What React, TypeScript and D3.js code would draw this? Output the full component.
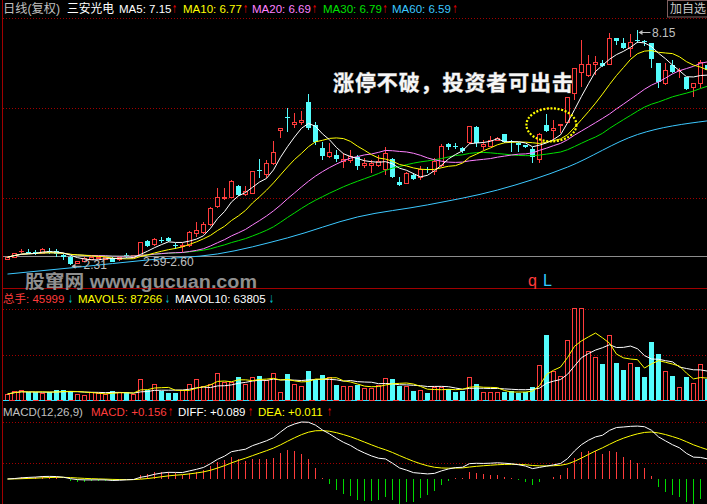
import { useEffect } from 'react';
import * as d3 from 'd3';

// 三安光电 日线(复权)，从左到右 101 根 K 线
const opens = [
  2.45, 2.50, 2.63, 2.63, 2.63, 2.60, 2.64, 2.65, 2.55, 2.50,
  2.33, 2.40, 2.45, 2.46, 2.45, 2.48, 2.43, 2.55, 2.49, 2.55,
  2.90, 2.81, 2.93, 2.97, 2.80, 2.76, 2.78, 3.10, 3.12, 3.30,
  3.77, 3.95, 3.99, 4.27, 4.07, 4.09, 4.65, 4.55, 4.84, 5.64,
  5.97, 5.80, 5.84, 6.36, 5.79, 5.21, 5.01, 5.04, 4.89, 4.91,
  4.99, 4.77, 4.77, 4.77, 4.67, 4.94, 4.37, 4.34, 4.55, 4.47,
  4.69, 4.62, 4.79, 5.31, 5.25, 5.21, 5.34, 5.74, 5.24, 5.26,
  5.41, 5.56, 5.37, 5.34, 5.29, 5.19, 4.94, 5.79, 5.64, 5.77,
  5.86, 6.56, 7.10, 7.03, 7.29, 7.33, 7.30, 7.95, 7.83, 7.68,
  7.90, 7.88, 7.83, 7.33, 6.83, 7.28, 7.14, 6.98, 6.71, 6.83,
  7.28,
];
const closes = [
  2.50, 2.58, 2.64, 2.62, 2.62, 2.68, 2.63, 2.59, 2.50, 2.34,
  2.38, 2.46, 2.49, 2.50, 2.48, 2.39, 2.50, 2.54, 2.54, 2.87,
  2.79, 2.94, 2.92, 2.89, 2.79, 2.79, 3.11, 3.17, 3.30, 3.72,
  3.99, 3.99, 4.37, 4.05, 4.14, 4.64, 4.64, 4.82, 5.11, 5.71,
  5.96, 5.84, 5.91, 5.71, 5.36, 5.01, 5.11, 4.94, 4.94, 5.01,
  4.77, 4.83, 4.82, 4.87, 5.09, 4.49, 4.29, 4.57, 4.45, 4.69,
  4.68, 4.87, 5.24, 5.24, 5.24, 5.14, 5.74, 5.34, 5.30, 5.39,
  5.46, 5.36, 5.36, 5.29, 5.23, 4.99, 5.56, 5.64, 5.71, 5.81,
  6.48, 7.20, 7.30, 7.28, 7.33, 7.25, 7.95, 7.88, 7.69, 7.83,
  7.89, 7.85, 7.43, 6.86, 7.15, 7.10, 7.15, 6.68, 6.83, 7.33,
  7.15,
];
const highs = [
  2.53, 2.60, 2.70, 2.70, 2.68, 2.73, 2.73, 2.70, 2.58, 2.53,
  2.40, 2.50, 2.53, 2.53, 2.50, 2.50, 2.53, 2.60, 2.56, 2.88,
  2.93, 2.97, 2.99, 2.99, 2.85, 2.85, 3.14, 3.37, 3.37, 3.75,
  4.22, 4.22, 4.43, 4.29, 4.27, 4.64, 4.94, 4.91, 5.39, 5.72,
  6.21, 6.08, 6.13, 6.56, 5.86, 5.36, 5.34, 5.16, 5.09, 5.16,
  5.04, 4.96, 4.91, 5.04, 5.24, 4.96, 4.49, 4.63, 4.59, 4.76,
  4.74, 4.96, 5.31, 5.34, 5.34, 5.25, 5.74, 5.76, 5.41, 5.51,
  5.49, 5.56, 5.41, 5.36, 5.30, 5.24, 5.59, 6.06, 5.91, 5.81,
  6.48, 7.20, 7.90, 7.53, 7.50, 7.40, 8.07, 7.95, 7.95, 8.05,
  8.15, 7.89, 7.83, 7.34, 7.33, 7.40, 7.20, 6.99, 6.83, 7.40,
  7.30,
];
const lows = [
  2.43, 2.48, 2.60, 2.58, 2.55, 2.58, 2.58, 2.50, 2.43, 2.31,
  2.32, 2.38, 2.43, 2.45, 2.43, 2.38, 2.40, 2.48, 2.48, 2.54,
  2.75, 2.78, 2.85, 2.87, 2.71, 2.63, 2.75, 3.00, 3.07, 3.27,
  3.72, 3.92, 3.97, 4.02, 4.01, 4.08, 4.47, 4.47, 4.79, 5.46,
  5.61, 5.71, 5.79, 5.66, 5.29, 4.91, 4.96, 4.87, 4.72, 4.84,
  4.67, 4.72, 4.59, 4.74, 4.55, 4.48, 4.27, 4.32, 4.42, 4.43,
  4.59, 4.55, 4.74, 5.16, 5.19, 5.09, 5.31, 5.24, 5.16, 5.24,
  5.39, 5.34, 5.11, 5.11, 5.21, 4.84, 4.84, 5.61, 5.41, 5.59,
  5.84, 6.41, 6.73, 6.98, 7.03, 7.23, 7.28, 7.78, 7.68, 7.48,
  7.83, 7.75, 7.20, 6.71, 6.78, 7.08, 6.96, 6.66, 6.48, 6.71,
  7.10,
];
// 成交量（手）
const volumes = [
  24000, 34800, 40000, 30800, 30800, 26800, 30800, 40000, 40000, 34800,
  24000, 20000, 30800, 26800, 21200, 34800, 30800, 30800, 21200, 84000,
  40000, 64000, 37200, 26800, 26800, 37200, 64000, 84000, 53200, 64000,
  106800, 70800, 70800, 90800, 64000, 90800, 94800, 77200, 106800, 30800,
  104000, 64000, 56000, 114800, 80000, 100000, 90800, 60000, 53200, 56000,
  60000, 48000, 48000, 57200, 86800, 84000, 57200, 54800, 36000, 40000,
  28000, 50800, 50800, 44000, 33200, 36000, 90800, 64000, 30800, 30800,
  30800, 33200, 34800, 29200, 30800, 50800, 140000, 260000, 113200, 94800,
  240000, 366800, 366800, 194800, 170800, 144000, 260000, 148000, 120000, 146800,
  132000, 92000, 232000, 184000, 114800, 96000, 50800, 92000, 68000, 142800,
  84000,
];

// MA60 读数（每 10 根）
const ma60Bars = [0, 10, 20, 30, 40, 50, 60, 70, 80, 90, 100];
const ma60Values = [2.08, 2.25, 2.43, 2.58, 2.98, 3.50, 3.80, 4.17, 4.74, 5.55, 5.89];

const priceLegend = [
  { label: 'MA5: 7.15', color: '#ffffff', arrow: '↑' },
  { label: 'MA10: 6.77', color: '#ffff00', arrow: '↑' },
  { label: 'MA20: 6.69', color: '#ff80ff', arrow: '↑' },
  { label: 'MA30: 6.79', color: '#00e000', arrow: '↑' },
  { label: 'MA60: 6.59', color: '#3cc8ff', arrow: '↑' },
];
const volLegend = [
  { label: '总手: 45999', color: '#ff3c3c', arrow: '↓' },
  { label: 'MAVOL5: 87266', color: '#ffff00', arrow: '↓' },
  { label: 'MAVOL10: 63805', color: '#ffffff', arrow: '↓' },
];
const macdLegend = [
  { label: 'MACD: +0.156', color: '#ff3c3c', arrow: '↑' },
  { label: 'DIFF: +0.089', color: '#ffffff', arrow: '↑' },
  { label: 'DEA: +0.011', color: '#ffff00', arrow: '↑' },
];

const highBar = 90;
const lowBar = 9;
const refPrice = 2.52;
const refLabel = '2.59-2.60';

const RED = '#ff3c3c';
const CYAN = '#54fcfc';
const GREEN = '#00d800';
const GRID = '#a00000';
const GRAY = '#c0c0c0';

const movingAvg = (arr: number[], n: number) =>
  arr.map((_, i) => d3.mean(arr.slice(Math.max(0, i - n + 1), i + 1)) as number);

const ema = (arr: number[], n: number) => {
  const k = 2 / (n + 1);
  const out: number[] = [];
  arr.forEach((v, i) => out.push(i === 0 ? v : out[i - 1] + k * (v - out[i - 1])));
  return out;
};

const dotted = (y: number, key: string) => (
  <line key={key} x1={3} x2={707} y1={y} y2={y} stroke={GRID} strokeDasharray="1 2" />
);

type LegendItem = { label: string; color: string; arrow: string };

// 一行指标说明：文字 + 细长箭头
const Legend = ({ items, xs, arrowXs, y, arrowColor }: {
  items: LegendItem[]; xs: number[]; arrowXs: number[]; y: number; arrowColor: string;
}) => (
  <g fontSize={11.5}>
    {items.map((d, i) => (
      <g key={d.label}>
        <text x={xs[i]} y={y} fill={d.color}>{d.label}</text>
        <text x={arrowXs[i]} y={y} fill={arrowColor} fontFamily="'DejaVu Sans', sans-serif"
          fontSize={11} textLength={5} lengthAdjust="spacingAndGlyphs">{d.arrow}</text>
      </g>
    ))}
  </g>
);

export default function App() {
  useEffect(() => {
    document.body.style.margin = '0';
    document.body.style.background = '#000';
  }, []);

  const x = d3.scaleLinear().domain([0, 100]).range([7.5, 707.5]);
  const yPrice = d3.scaleLinear().domain([2.31, 8.15]).range([264.8, 30]);
  const yVol = d3.scaleLinear().domain([0, 368000]).range([400, 308]);

  const ema26 = ema(closes, 26);
  const diff = ema(closes, 12).map((v, i) => v - ema26[i]);
  const dea = ema(diff, 9);
  const macd = diff.map((v, i) => 2 * (v - dea[i]));
  const yMacd = d3.scaleLinear().domain([0, d3.max(diff) as number]).range([479, 422]);

  const maLines = [
    { values: movingAvg(closes, 5), color: '#ffffff' },
    { values: movingAvg(closes, 10), color: '#ffff00' },
    { values: movingAvg(closes, 20), color: '#ff80ff' },
    { values: movingAvg(closes, 30), color: '#00e000' },
  ];
  const priceLine = d3.line<number>().x((_, i) => x(i)).y((d) => yPrice(d));
  const ma60Line = d3.line<number>()
    .x((_, i) => x(ma60Bars[i]))
    .y((d) => yPrice(d))
    .curve(d3.curveMonotoneX);
  const volLine = d3.line<number>().x((_, i) => x(i)).y((d) => yVol(d));
  const macdLine = d3.line<number>().x((_, i) => x(i)).y((d) => yMacd(d));

  const hx = x(highBar);
  const hy = yPrice(highs[highBar]);
  const lx = x(lowBar);
  const ly = yPrice(lows[lowBar]);

  return (
    <svg width={707} height={504} style={{ display: 'block', background: '#000' }}
      fontFamily="'Liberation Sans', 'Noto Sans CJK SC', sans-serif" fontSize={12}>
      <defs>
        <clipPath id="pricePanel"><rect x={3} y={19} width={704} height={269} /></clipPath>
        <clipPath id="volPanel"><rect x={3} y={290} width={704} height={110} /></clipPath>
        <clipPath id="macdPanel"><rect x={3} y={402} width={704} height={102} /></clipPath>
      </defs>
      <rect width={707} height={504} fill="#000" />

      {/* grids and separators */}
      {[18.5, 108.5, 198.5].map((y, i) => dotted(y, 'p' + i))}
      {[309.5, 355.5].map((y, i) => dotted(y, 'v' + i))}
      {[422.5, 463.5].map((y, i) => dotted(y, 'm' + i))}
      <line x1={2.5} x2={2.5} y1={0} y2={504} stroke={GRID} />
      <line x1={3} x2={707} y1={288.5} y2={288.5} stroke={GRID} />
      <line x1={3} x2={707} y1={400.5} y2={400.5} stroke={RED} />
      <line x1={3} x2={707} y1={400.5} y2={400.5} stroke="#33e0ff" strokeDasharray="6 6" />

      {/* price panel */}
      <g clipPath="url(#pricePanel)" shapeRendering="crispEdges">
        <line x1={3} x2={707} y1={yPrice(refPrice)} y2={yPrice(refPrice)} stroke="#8c8c8c" />
        {closes.map((c, i) => {
          const o = opens[i];
          const up = c >= o;
          const cx = x(i);
          const color = up ? RED : CYAN;
          const top = yPrice(Math.max(o, c));
          const bot = yPrice(Math.min(o, c));
          const h = yPrice(highs[i]);
          const l = yPrice(lows[i]);
          if (bot - top < 1.2) {
            const m = (top + bot) / 2;
            return (
              <g key={i} stroke={color}>
                <line x1={cx} x2={cx} y1={h} y2={l} />
                <line x1={cx - 2.5} x2={cx + 2.5} y1={m} y2={m} />
              </g>
            );
          }
          if (up) {
            return (
              <g key={i} stroke={color}>
                <line x1={cx} x2={cx} y1={h} y2={top} />
                <line x1={cx} x2={cx} y1={bot} y2={l} />
                <rect x={cx - 2} y={top} width={4} height={bot - top} fill="#000" />
              </g>
            );
          }
          return (
            <g key={i}>
              <line x1={cx} x2={cx} y1={h} y2={l} stroke={color} />
              <rect x={cx - 2.5} y={top} width={5} height={bot - top} fill={color} />
            </g>
          );
        })}
      </g>
      <g clipPath="url(#pricePanel)" fill="none">
        <path d={ma60Line(ma60Values) as string} stroke="#3cc8ff" />
        {maLines.slice().reverse().map((m) => (
          <path key={m.color} d={priceLine(m.values) as string} stroke={m.color} />
        ))}
      </g>

      {/* price annotations */}
      <ellipse cx={x(77.7)} cy={yPrice(5.79)} rx={25} ry={16.5} fill="none"
        stroke="#ffff00" strokeWidth={2.2} strokeDasharray="2 1.6" />
      <line x1={hx + 2} x2={hx + 13} y1={hy + 2.5} y2={hy + 2.5} stroke={GRAY} />
      <path d={`M${hx + 1},${hy + 2.5}l4,-2.5v5z`} fill={GRAY} />
      <text x={hx + 14.5} y={hy + 6.5} fill={GRAY}>{highs[highBar].toFixed(2)}</text>
      <line x1={lx + 2} x2={lx + 11} y1={ly + 1.5} y2={ly + 1.5} stroke={GRAY} />
      <path d={`M${lx + 1},${ly + 1.5}l4,-2.5v5z`} fill={GRAY} />
      <text x={lx + 13} y={ly + 4.5} fill={GRAY}>{lows[lowBar].toFixed(2)}</text>
      <text x={143} y={yPrice(refPrice) + 9.5} fill={GRAY}>{refLabel}</text>

      <text x={333} y={90} fontSize={21} fontWeight="bold" fontFamily="'Noto Sans CJK SC', sans-serif"
        fill="#f6f6f6" stroke="#808080" strokeWidth={0.8} paintOrder="stroke"
        textLength={240} lengthAdjust="spacing">涨停不破，投资者可出击</text>
      <text x={25} y={288} fontSize={18} fontWeight="bold" fill="#8f8f8f"
        textLength={232} lengthAdjust="spacingAndGlyphs">股窜网 www.gucuan.com</text>
      <text x={528} y={285.5} fontSize={16} fill={RED}>q</text>
      <text x={543} y={285.5} fontSize={16} fill="#33ccff">L</text>

      {/* header */}
      <text x={3} y={12.5} fill={GRAY} textLength={57} lengthAdjust="spacingAndGlyphs">日线(复权)</text>
      <text x={67} y={12.5} fill="#ffffff" textLength={47} lengthAdjust="spacingAndGlyphs">三安光电</text>
      <Legend items={priceLegend} xs={[119, 183, 252, 323, 392]}
        arrowXs={[172, 243, 312, 382.5, 452.5]} y={12.5} arrowColor="#e00000" />
      <rect x={667.5} y={0.5} width={40} height={16.5} fill="none" stroke="#806060" />
      <text x={670} y={13} fill="#c8c8c8">加自选</text>

      {/* volume panel */}
      <g clipPath="url(#volPanel)" shapeRendering="crispEdges">
        {volumes.map((v, i) => {
          const cx = x(i);
          const top = yVol(v);
          return closes[i] >= opens[i] ? (
            <rect key={i} x={cx - 2} y={top} width={4} height={400 - top} fill="#000" stroke={RED} />
          ) : (
            <rect key={i} x={cx - 2.5} y={top} width={5} height={400 - top} fill={CYAN} />
          );
        })}
      </g>
      <g clipPath="url(#volPanel)" fill="none">
        <path d={volLine(movingAvg(volumes, 10)) as string} stroke="#ffffff" />
        <path d={volLine(movingAvg(volumes, 5)) as string} stroke="#ffff00" />
      </g>
      <Legend items={volLegend} xs={[3, 78, 175]} arrowXs={[68, 165, 269]}
        y={302.5} arrowColor="#00b8c8" />

      {/* MACD panel */}
      <g clipPath="url(#macdPanel)">
        <g shapeRendering="crispEdges">
          {macd.map((m, i) => (
            <line key={i} x1={x(i)} x2={x(i)} y1={yMacd(0)} y2={yMacd(m)}
              stroke={m >= 0 ? RED : GREEN} />
          ))}
        </g>
        <path d={macdLine(dea) as string} fill="none" stroke="#ffff00" />
        <path d={macdLine(diff) as string} fill="none" stroke="#ffffff" />
      </g>
      <text x={3} y={416} fill={GRAY} fontSize={11.5}>MACD(12,26,9)</text>
      <Legend items={macdLegend} xs={[91, 178, 258]} arrowXs={[168, 248, 327]}
        y={416} arrowColor="#e00000" />
    </svg>
  );
}
